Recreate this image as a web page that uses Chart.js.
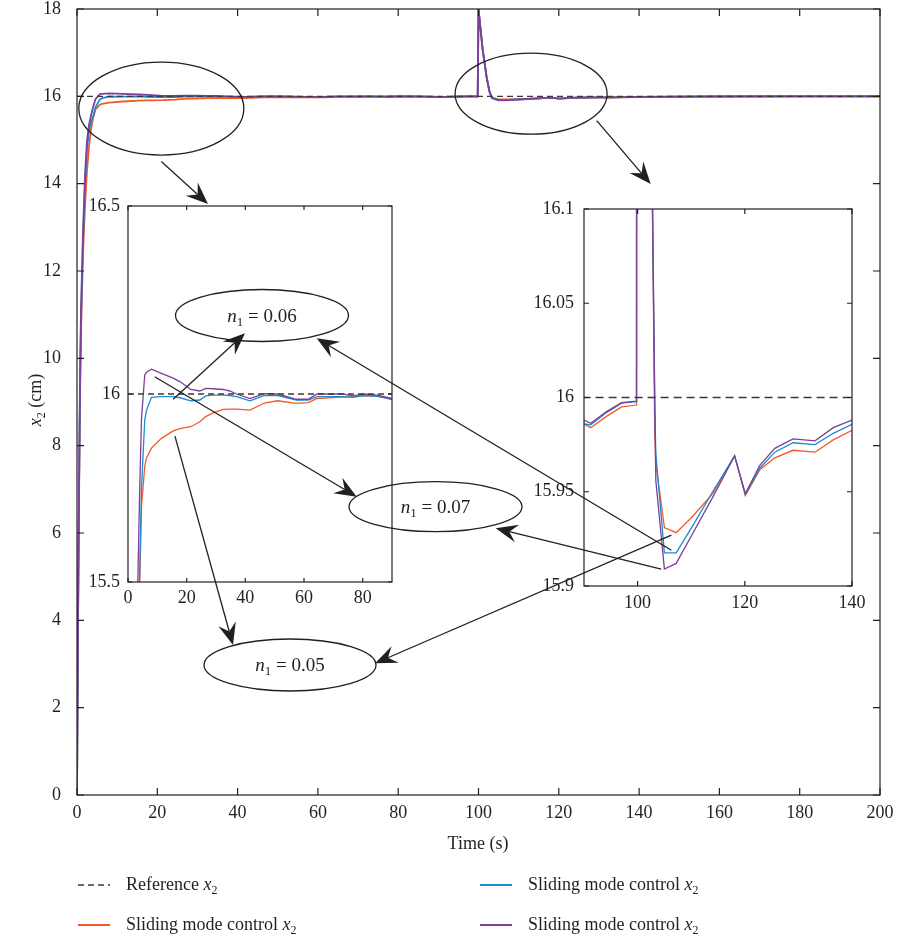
<!DOCTYPE html>
<html><head><meta charset="utf-8">
<script src="https://cdn.jsdelivr.net/npm/chart.js@4.4.1/dist/chart.umd.min.js"></script>
<style>
html,body{margin:0;padding:0;background:#fff;}
#wrap{position:relative;width:899px;height:943px;overflow:hidden;font-family:"Liberation Serif",serif;color:#231f20;}
canvas{position:absolute;}
.lbl{position:absolute;font-size:18px;white-space:nowrap;line-height:22px;}
.lbl sub{font-size:12px;vertical-align:-4px;line-height:0;}
</style></head><body>
<div id="wrap">
<canvas id="main" style="left:0;top:0;width:899px;height:943px" width="899" height="943"></canvas>
<canvas id="in1" style="left:78px;top:190px;width:322px;height:430px" width="322" height="430"></canvas>
<canvas id="in2" style="left:520px;top:195px;width:370px;height:431px" width="370" height="431"></canvas>
<canvas id="ann" style="left:0;top:0;width:899px;height:943px;z-index:5" width="899" height="943"></canvas>
<div class="lbl" style="left:0;top:389px;width:70px;text-align:center;transform:rotate(-90deg);transform-origin:35px 11px;"><i>x</i><sub>2</sub> (cm)</div>
<div class="lbl" style="left:378px;top:832px;width:200px;text-align:center;">Time (s)</div>
<svg style="position:absolute;left:0;top:0" width="899" height="943">
<line x1="78" y1="885" x2="110" y2="885" stroke="#3a3a3a" stroke-width="1.6" stroke-dasharray="6,4"/>
<line x1="78" y1="925" x2="110" y2="925" stroke="#f15a29" stroke-width="2"/>
<line x1="480" y1="885" x2="512" y2="885" stroke="#1c8bd0" stroke-width="2"/>
<line x1="480" y1="925" x2="512" y2="925" stroke="#7f3f98" stroke-width="2"/>
</svg>
<div class="lbl" style="left:126px;top:873px;">Reference <i>x</i><sub>2</sub></div>
<div class="lbl" style="left:126px;top:913px;">Sliding mode control <i>x</i><sub>2</sub></div>
<div class="lbl" style="left:528px;top:873px;">Sliding mode control <i>x</i><sub>2</sub></div>
<div class="lbl" style="left:528px;top:913px;">Sliding mode control <i>x</i><sub>2</sub></div>
</div>
<script>
// ---- data (time in s, x2 in cm) ----
const timeS = [0,0.25,0.5,0.75,1,1.5,2,2.5,3,3.5,4,4.6,5.7,6.3,8,11.4,15.4,17.7,21.4,24.5,26.5,29,32.4,34.7,37,41.6,46.5,51,57.4,61.4,64.5,71,73.3,76.7,80.5,85,90,91.25,94.2,97,99.8,100,101,102,102.7,103.2,103.4,105,107.2,110.3,114,118.1,120.1,122.8,125.6,129,133.1,136.5,140,150,160,170,180,190,200];
// n1 = 0.05 (orange)
const orangeX2 = [0,3.8,6.7,9.1,10.6,12.4,13.5,14.3,14.85,15.25,15.5,15.7,15.807,15.83,15.856,15.882,15.902,15.908,15.913,15.926,15.94,15.95,15.959,15.96,15.96,15.957,15.976,15.982,15.975,15.977,15.988,15.991,15.992,15.993,15.996,15.995,15.986,15.984,15.990,15.995,15.996,18,17.1,16.45,16.12,15.981,15.965,15.931,15.9283,15.937,15.949,15.969,15.948,15.9617,15.968,15.972,15.971,15.9775,15.9826,15.99,15.994,15.996,15.998,15.999,16.0];
// n1 = 0.06 (blue)
const blueX2 = [0,3.9,6.9,9.3,10.9,12.7,14.0,14.8,15.2,15.4,15.53,15.75,15.93,15.957,15.991,15.993,15.993,15.99,15.982,15.984,15.995,15.997,15.997,15.996,15.993,15.982,15.996,15.996,15.984,15.984,15.993,15.993,15.993,15.991,15.996,15.994,15.986,15.9855,15.992,15.997,15.9978,18,17.1,16.45,16.12,15.995,15.97,15.9176,15.9176,15.932,15.95,15.969,15.9485,15.9625,15.971,15.976,15.975,15.981,15.9858,15.993,15.996,15.998,15.999,16.0,16.0];
// n1 = 0.07 (purple)
const purpleX2 = [0,4,7,9.5,11.1,12.9,14.2,15.0,15.35,15.56,15.75,15.935,16.05,16.058,16.066,16.055,16.042,16.033,16.012,16.008,16.015,16.014,16.012,16.008,16.0,15.988,16.001,16.0,15.986,15.986,16.0,16.0,16.0,15.995,16.0,15.997,15.988,15.9863,15.9925,15.9973,15.998,18,17.1,16.45,16.12,16.0,15.956,15.909,15.912,15.928,15.947,15.969,15.949,15.964,15.973,15.978,15.977,15.984,15.988,15.994,15.997,15.998,15.999,16.0,16.0];
const refTime = [0,200];
const refX2 = [16,16];
const mainXTicks = [0,20,40,60,80,100,120,140,160,180,200];
const mainYTicks = [0,2,4,6,8,10,12,14,16,18];
const in1XTicks = [0,20,40,60,80];
const in1YTicks = [15.5,16,16.5];
const in2XTicks = [100,120,140];
const in2YTicks = [15.9,15.95,16,16.05,16.1];

const C_OR='#f15a29', C_BL='#1c8bd0', C_PU='#7f3f98', C_REF='#3a3a3a', INK='#231f20';
const pts = (ts,vs)=>ts.map((t,i)=>({x:t,y:vs[i]}));

const frame = {
  id:'frame',
  afterDraw(chart, args, o){
    const {ctx, chartArea:a, scales:{x,y}} = chart;
    ctx.save(); ctx.strokeStyle=INK; ctx.lineWidth=o.lw;
    ctx.strokeRect(a.left, a.top, a.right-a.left, a.bottom-a.top);
    ctx.beginPath();
    x.ticks.forEach(t=>{const p=x.getPixelForValue(t.value);
      ctx.moveTo(p,a.bottom); ctx.lineTo(p,a.bottom-o.len);
      ctx.moveTo(p,a.top); ctx.lineTo(p,a.top+o.len);});
    y.ticks.forEach(t=>{const p=y.getPixelForValue(t.value);
      ctx.moveTo(a.left,p); ctx.lineTo(a.left+o.len,p);
      ctx.moveTo(a.right,p); ctx.lineTo(a.right-o.len,p);});
    ctx.stroke(); ctx.restore();
  }
};
const noPad = s=>{s.paddingTop=0; s.paddingBottom=0; s.paddingLeft=0; s.paddingRight=0;};

function makeChart(id, cfg){
  const font = {family:'"Liberation Serif", serif', size:cfg.fs, lineHeight:1};
  return new Chart(document.getElementById(id), {
    type:'line',
    data:{datasets:[
      {data:pts(refTime,refX2), borderColor:C_REF, borderWidth:cfg.rw, borderDash:cfg.dash},
      {data:pts(timeS,purpleX2), borderColor:C_PU, borderWidth:cfg.lw},
      {data:pts(timeS,blueX2), borderColor:C_BL, borderWidth:cfg.lw},
      {data:pts(timeS,orangeX2), borderColor:C_OR, borderWidth:cfg.lw}
    ]},
    options:{
      responsive:false, animation:false, events:[],
      elements:{point:{radius:0}, line:{tension:0}},
      layout:{padding:cfg.pad},
      plugins:{legend:{display:false}, tooltip:{enabled:false}, frame:{len:cfg.tl, lw:cfg.bw}},
      scales:{
        x:{type:'linear', min:cfg.xr[0], max:cfg.xr[1],
           grid:{display:false, drawTicks:false}, border:{display:false},
           afterBuildTicks:s=>{s.ticks=cfg.xt.map(v=>({value:v}));},
           afterFit:s=>{s.height=cfg.xh; noPad(s);},
           ticks:{font, color:INK, padding:cfg.xp, maxRotation:0, autoSkip:false, callback:v=>String(v)}},
        y:{type:'linear', min:cfg.yr[0], max:cfg.yr[1],
           grid:{display:false, drawTicks:false}, border:{display:false},
           afterBuildTicks:s=>{s.ticks=cfg.yt.map(v=>({value:v}));},
           afterFit:s=>{s.width=cfg.yw; noPad(s);},
           ticks:{font, color:INK, padding:cfg.yp, autoSkip:false, callback:v=>String(v)}}
      }
    },
    plugins:[frame]
  });
}

const mainC = makeChart('main',{fs:18, lw:1.8, rw:1.4, dash:[6,4], pad:{top:9,right:19,left:0,bottom:0},
  xr:[0,200], yr:[0,18], xt:mainXTicks, yt:mainYTicks, xh:148, yw:77, xp:9, yp:16, tl:7, bw:1.2});
const in1C = makeChart('in1',{fs:18, lw:1.3, rw:1.4, dash:[6,4], pad:{top:16,right:8,left:0,bottom:0},
  xr:[0,90], yr:[15.5,16.5], xt:in1XTicks, yt:in1YTicks, xh:38, yw:50, xp:7, yp:8, tl:4, bw:1.2});
const in2C = makeChart('in2',{fs:18, lw:1.3, rw:1.5, dash:[8,5], pad:{top:14,right:38,left:0,bottom:0},
  xr:[90,140], yr:[15.9,16.1], xt:in2XTicks, yt:in2YTicks, xh:40, yw:64, xp:8, yp:10, tl:5, bw:1.2});

// ---- annotations ----
function pagePt(chart, off, xv, yv){
  return [off[0]+chart.scales.x.getPixelForValue(xv), off[1]+chart.scales.y.getPixelForValue(yv)];
}
const off1=[78,190], off2=[520,195];
const ac = document.getElementById('ann').getContext('2d');
ac.strokeStyle=INK; ac.fillStyle=INK; ac.lineWidth=1.3;
function ellipse(cx,cy,rx,ry){ac.beginPath(); ac.ellipse(cx,cy,rx,ry,0,0,Math.PI*2); ac.stroke();}
function arrow(x1,y1,x2,y2){
  const dx=x2-x1, dy=y2-y1, d=Math.hypot(dx,dy), ux=dx/d, uy=dy/d, nx=-uy, ny=ux;
  const L=22, W=9, N=14;
  ac.beginPath(); ac.moveTo(x1,y1); ac.lineTo(x2-ux*N, y2-uy*N); ac.stroke();
  ac.beginPath(); ac.moveTo(x2,y2);
  ac.lineTo(x2-ux*L+nx*W, y2-uy*L+ny*W);
  ac.lineTo(x2-ux*N, y2-uy*N);
  ac.lineTo(x2-ux*L-nx*W, y2-uy*L-ny*W);
  ac.closePath(); ac.fill();
}
function nlabel(cx,cy,val){
  const fb='19px "Liberation Serif", serif', fi='italic 19px "Liberation Serif", serif', fs='13px "Liberation Serif", serif';
  const rest=' = '+val;
  ac.font=fi; const wn=ac.measureText('n').width;
  ac.font=fs; const w1=ac.measureText('1').width;
  ac.font=fb; const wr=ac.measureText(rest).width;
  let x=cx-(wn+w1+wr)/2; const by=cy+6;
  ac.textBaseline='alphabetic';
  ac.font=fi; ac.fillText('n',x,by); x+=wn;
  ac.font=fs; ac.fillText('1',x,by+4); x+=w1;
  ac.font=fb; ac.fillText(rest,x,by);
}
// zoom-region ellipses on main plot
const eA = pagePt(mainC,[0,0],21,15.72);
ellipse(eA[0],eA[1],82.5,46.5);
const eB = pagePt(mainC,[0,0],113.1,16.06);
ellipse(eB[0],eB[1],76,40.5);
arrow(eA[0],eA[1]+53,208,204);
arrow(596.7,120.7,650.7,184);
// label ellipses
ellipse(262,315.5,86.5,26); nlabel(262,315.5,'0.06');
ellipse(435.5,506.7,86.5,25); nlabel(435.5,506.7,'0.07');
ellipse(290,665,86,26); nlabel(290,665,'0.05');
// arrows from inset 1 curves
let p = pagePt(in1C,off1,15.4,15.986); arrow(p[0],p[1],245,333.3);
p = pagePt(in1C,off1,9.1,16.046); arrow(p[0],p[1],356.7,496.7);
p = pagePt(in1C,off1,16,15.888); arrow(p[0],p[1],233,645);
// arrows from inset 2 curves
p = pagePt(in2C,off2,106.3,15.919); arrow(p[0],p[1],316.7,338.3);
p = pagePt(in2C,off2,104.4,15.909); arrow(p[0],p[1],495.7,528.3);
p = pagePt(in2C,off2,106.3,15.927); arrow(p[0],p[1],375,663.3);
</script>
</body></html>
